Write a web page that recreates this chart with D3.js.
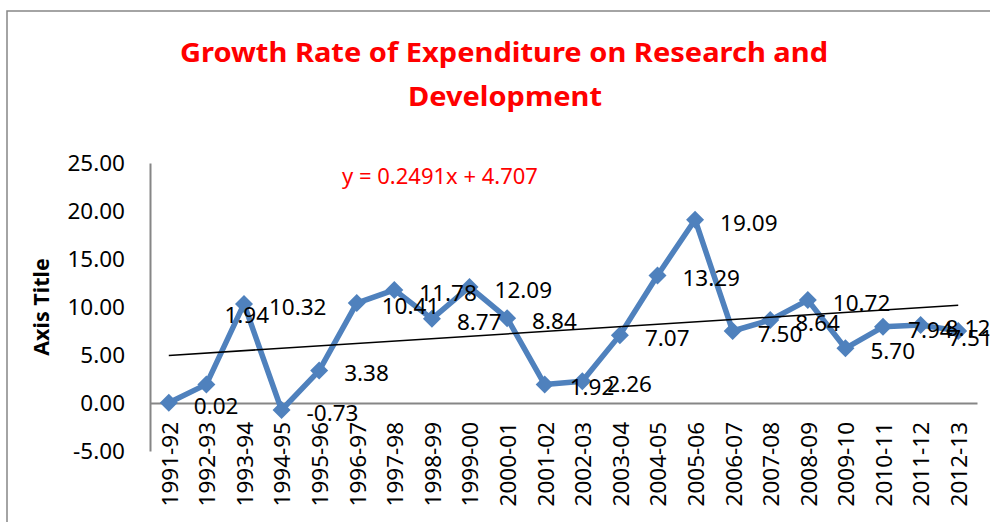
<!DOCTYPE html>
<html>
<head>
<meta charset="utf-8">
<script src="https://cdn.jsdelivr.net/npm/d3@7"></script>
<style>
  html, body { margin: 0; padding: 0; background: #fff; }
  svg { display: block; }
</style>
</head>
<body>
<svg id="chart" width="990" height="522"></svg>
<script>
// ---- data ----
const categories = ["1991-92","1992-93","1993-94","1994-95","1995-96","1996-97","1997-98","1998-99","1999-00","2000-01","2001-02","2002-03","2003-04","2004-05","2005-06","2006-07","2007-08","2008-09","2009-10","2010-11","2011-12","2012-13"];
const values = [0.02,1.94,10.32,-0.73,3.38,10.41,11.78,8.77,12.09,8.84,1.92,2.26,7.07,13.29,19.09,7.50,8.64,10.72,5.70,7.94,8.12,7.51];
const yTicks = [-5,0,5,10,15,20,25];
const trendSlope = 0.2491;
const trendIntercept = 4.707;
const titleLines = ["Growth Rate of Expenditure on Research and", "Development"];
const equationText = "y = 0.2491x + 4.707";
const yAxisTitle = "Axis Title";

// label nudges (index -> [dx, dy]) to mimic the reference's label placement
const labelNudge = {1: [18, -72], 21: [-10, 4]};

// ---- layout ----
const svg = d3.select("#chart");
const font = "'Noto Sans', 'DejaVu Sans', sans-serif";
const plot = {left: 150, right: 977, top: 163, bottom: 451};
const fmt = d3.formatLocale({decimal: ".", thousands: ",", grouping: [3], currency: ["", ""], minus: "-"}).format(".2f");

// chart border
svg.append("rect")
  .attr("x", 7).attr("y", 11).attr("width", 1000).attr("height", 600)
  .attr("fill", "none").attr("stroke", "#868686").attr("stroke-width", 1.5);

const x = d3.scaleBand().domain(categories).range([plot.left, plot.right]);
const y = d3.scaleLinear().domain([-5, 25]).range([plot.bottom, plot.top]);
const cx = d => x(d) + x.bandwidth() / 2;

// title
svg.append("text")
  .attr("x", 504).attr("y", 62).attr("text-anchor", "middle")
  .attr("font-family", font).attr("font-weight", "bold").attr("font-size", 27)
  .attr("fill", "#FF0000")
  .attr("textLength", 648).attr("lengthAdjust", "spacingAndGlyphs")
  .text(titleLines[0]);
svg.append("text")
  .attr("x", 505).attr("y", 106).attr("text-anchor", "middle")
  .attr("font-family", font).attr("font-weight", "bold").attr("font-size", 27)
  .attr("fill", "#FF0000")
  .attr("textLength", 194).attr("lengthAdjust", "spacingAndGlyphs")
  .text(titleLines[1]);

// y axis
const yAxis = svg.append("g")
  .attr("transform", `translate(${plot.left},0)`)
  .call(d3.axisLeft(y).tickValues(yTicks).tickFormat(fmt).tickSize(0).tickSizeOuter(0).tickPadding(25));
yAxis.select(".domain").attr("stroke", "#868686").attr("stroke-width", 2);
yAxis.selectAll("text").attr("font-family", font).attr("font-size", 22.5).attr("fill", "#000");

// x axis at zero
const xAxis = svg.append("g")
  .attr("transform", `translate(0,${y(0)})`)
  .call(d3.axisBottom(x).tickSize(0).tickSizeOuter(0));
xAxis.select(".domain").attr("stroke", "#868686").attr("stroke-width", 2);
xAxis.selectAll("text")
  .attr("font-family", font).attr("font-size", 22.5).attr("fill", "#000")
  .attr("transform", "rotate(-90)")
  .attr("text-anchor", "end")
  .attr("x", -19).attr("y", 1).attr("dy", "0.35em");

// axis title
svg.append("text")
  .attr("transform", "translate(49,307) rotate(-90)")
  .attr("text-anchor", "middle")
  .attr("font-family", font).attr("font-weight", "bold").attr("font-size", 21.5)
  .attr("fill", "#000")
  .text(yAxisTitle);

// series line
const line = d3.line().x((d, i) => cx(categories[i])).y(d => y(d));
svg.append("path")
  .datum(values)
  .attr("d", line)
  .attr("fill", "none").attr("stroke", "#4F81BD").attr("stroke-width", 5.5)
  .attr("stroke-linejoin", "round");

// markers (diamonds)
const r = 9;
svg.append("g").selectAll("path")
  .data(values)
  .join("path")
  .attr("transform", (d, i) => `translate(${cx(categories[i])},${y(d)})`)
  .attr("d", `M0,${-r}L${r},0L0,${r}L${-r},0Z`)
  .attr("fill", "#4F81BD");

// linear trendline
const n = categories.length;
svg.append("line")
  .attr("x1", cx(categories[0])).attr("y1", y(trendSlope * 1 + trendIntercept))
  .attr("x2", cx(categories[n - 1])).attr("y2", y(trendSlope * n + trendIntercept))
  .attr("stroke", "#000").attr("stroke-width", 1.5);

// equation
svg.append("text")
  .attr("x", 342).attr("y", 176).attr("dy", "0.35em")
  .attr("font-family", font).attr("font-size", 22)
  .attr("fill", "#FF0000")
  .text(equationText);

// data labels
svg.append("g").selectAll("text")
  .data(values)
  .join("text")
  .attr("x", (d, i) => cx(categories[i]) + (labelNudge[i] ? labelNudge[i][0] : 25))
  .attr("y", (d, i) => y(d) + 3 + (labelNudge[i] ? labelNudge[i][1] : 0))
  .attr("dy", "0.35em")
  .attr("font-family", font).attr("font-size", 22.5).attr("fill", "#000")
  .text(d => fmt(d));
</script>
</body>
</html>
